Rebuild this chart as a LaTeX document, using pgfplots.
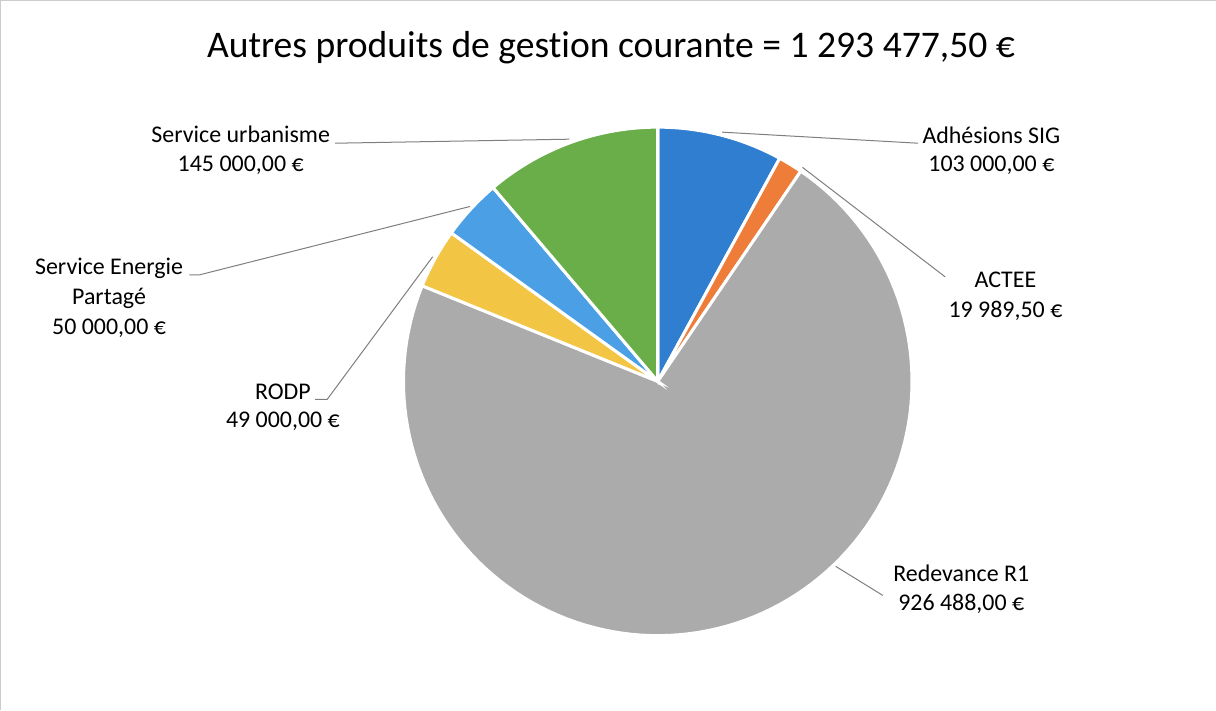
\documentclass[border=0pt]{standalone}
\usepackage{fontspec}
\setmainfont{Carlito}[Ligatures=NoCommon]
\usepackage{pgfplots}
\usepackage{pgfplotstable}
\pgfplotsset{compat=1.18}

\definecolor{sliceA}{HTML}{2F7ED0}
\definecolor{sliceB}{HTML}{EE7D3A}
\definecolor{sliceC}{HTML}{ABABAB}
\definecolor{sliceD}{HTML}{F3C544}
\definecolor{sliceE}{HTML}{4A9FE5}
\definecolor{sliceF}{HTML}{6AAE4A}
\definecolor{leader}{HTML}{7F7F7F}

% values (EUR), clockwise from 12 o'clock
\pgfplotstableread{
value
103000
19989.5
926488
49000
50000
145000
}\piedata

\def\total{0}
\pgfplotsforeachungrouped \i in {0,...,5}{%
  \pgfplotstablegetelem{\i}{value}\of\piedata
  \xdef\total{\fpeval{\total+\pgfplotsretval}}%
}
\def\cum{0}
\pgfplotsforeachungrouped \i in {0,...,5}{%
  \pgfplotstablegetelem{\i}{value}\of\piedata
  \expandafter\xdef\csname angS\i\endcsname{\fpeval{90-360*\cum/\total}}%
  \xdef\cum{\fpeval{\cum+\pgfplotsretval}}%
  \expandafter\xdef\csname angE\i\endcsname{\fpeval{90-360*\cum/\total}}%
}
\def\slicecol#1{\ifcase#1 sliceA\or sliceB\or sliceC\or sliceD\or sliceE\or sliceF\fi}

\newcommand\lblfont{\fontsize{11.9}{14.5}\selectfont}

\begin{document}
\begin{tikzpicture}
\begin{axis}[
  scale only axis, width=608pt, height=355.5pt,
  xmin=0, xmax=1216, ymin=0, ymax=711, y dir=reverse,
  hide axis, clip=false,
]
% faint scan frame
\addplot[draw=black!20, line width=0.5pt] coordinates {(7,711) (7,5) (1216,5)};

\pgfplotsinvokeforeach{0,...,5}{
  \edef\tmp{\noexpand\addplot[draw=white, line width=1.5pt, fill=\slicecol{#1},
    domain=\csname angE#1\endcsname:\csname angS#1\endcsname, samples=120, variable=\noexpand\t]
    ({661+253*cos(\noexpand\t)},{384-253*sin(\noexpand\t)}) -- (axis cs:661,384) -- cycle;}
  \tmp
}

% leader lines
\addplot[leader, line width=0.5pt] coordinates {(340,147) (573,143)};
\addplot[leader, line width=0.5pt] coordinates {(725,136) (920,147)};
\addplot[leader, line width=0.5pt] coordinates {(805,171) (947,280)};
\addplot[leader, line width=0.5pt] coordinates {(838,568) (885,597)};
\addplot[leader, line width=0.5pt] coordinates {(437,260) (332,402) (320,402)};
\addplot[leader, line width=0.5pt] coordinates {(474,210) (205,278) (195,278)};

% title
\node[anchor=base, inner sep=0pt, font=\fontsize{18.7}{22}\selectfont] at (axis cs:614.5,62)
  {Autres produits de gestion courante = 1 293 477,50 €};

% labels
\node[anchor=base, inner sep=0pt, font=\lblfont] at (axis cs:246,146) {Service urbanisme};
\node[anchor=base, inner sep=0pt, font=\lblfont] at (axis cs:246,175) {145 000,00 €};
\node[anchor=base, inner sep=0pt, font=\lblfont] at (axis cs:993,147) {Adhésions SIG};
\node[anchor=base, inner sep=0pt, font=\lblfont] at (axis cs:993,175) {103 000,00 €};
\node[anchor=base, inner sep=0pt, font=\lblfont] at (axis cs:1007,291) {ACTEE};
\node[anchor=base, inner sep=0pt, font=\lblfont] at (axis cs:1007,320) {19 989,50 €};
\node[anchor=base, inner sep=0pt, font=\lblfont] at (axis cs:963,583) {Redevance R1};
\node[anchor=base, inner sep=0pt, font=\lblfont] at (axis cs:963,612) {926 488,00 €};
\node[anchor=base, inner sep=0pt, font=\lblfont] at (axis cs:288,402) {RODP};
\node[anchor=base, inner sep=0pt, font=\lblfont] at (axis cs:288,430) {49 000,00 €};
\node[anchor=base, inner sep=0pt, font=\lblfont] at (axis cs:115,278) {Service Energie};
\node[anchor=base, inner sep=0pt, font=\lblfont] at (axis cs:115,307) {Partagé};
\node[anchor=base, inner sep=0pt, font=\lblfont] at (axis cs:115,337) {50 000,00 €};
\end{axis}
\end{tikzpicture}
\end{document}
